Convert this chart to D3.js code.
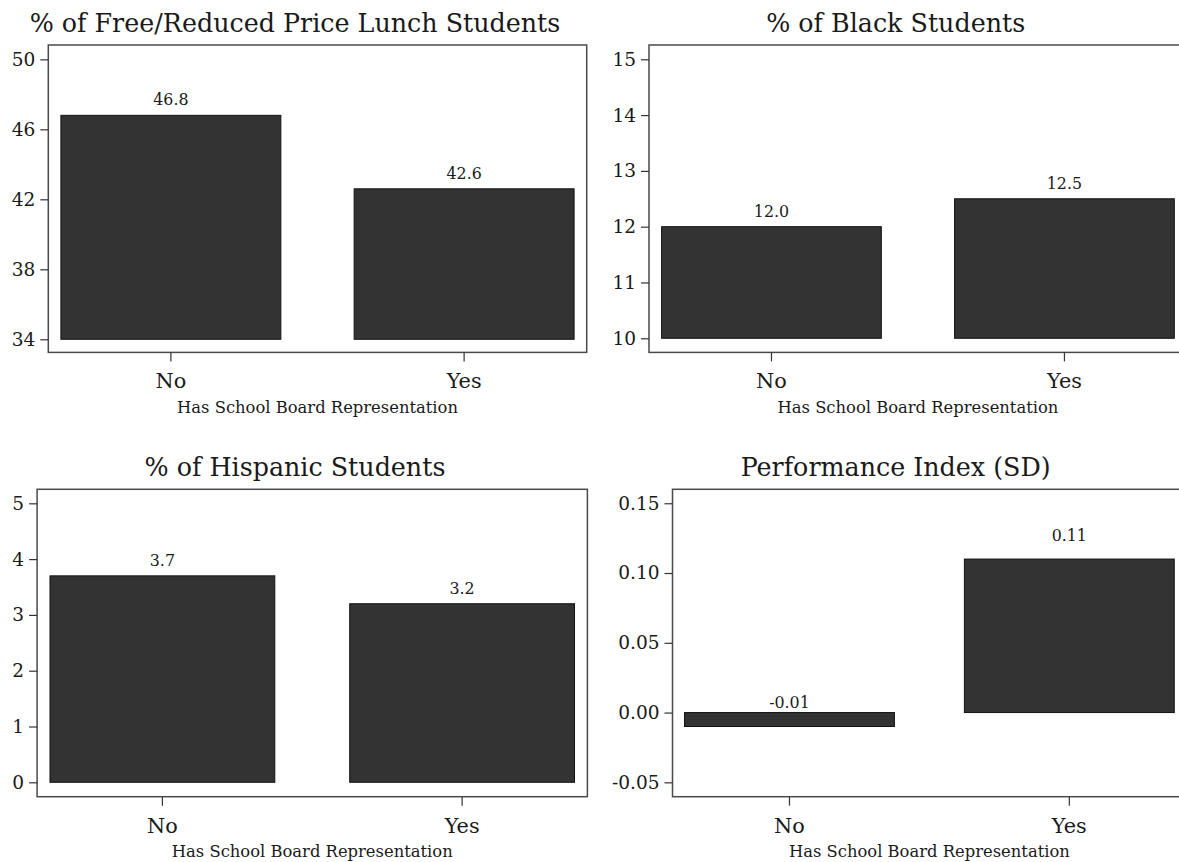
<!DOCTYPE html>
<html><head><meta charset="utf-8">
<script src="https://cdn.jsdelivr.net/npm/d3@7"></script>
<style>body{margin:0;background:#fff}</style>
</head><body>
<svg id="chart" width="1179" height="862"></svg>
<script>
// ---- data ----
const categories = ["No", "Yes"];
const panelTitles = ["% of Free/Reduced Price Lunch Students", "% of Black Students", "% of Hispanic Students", "Performance Index (SD)"];
const xAxisTitle = "Has School Board Representation";
const lunchValues = [46.8, 42.6];
const blackValues = [12.0, 12.5];
const hispanicValues = [3.7, 3.2];
const performanceValues = [-0.01, 0.11];
const lunchTicks = [34, 38, 42, 46, 50];
const blackTicks = [10, 11, 12, 13, 14, 15];
const hispanicTicks = [0, 1, 2, 3, 4, 5];
const performanceTicks = [-0.05, 0.00, 0.05, 0.10, 0.15];
const barBases = [34, 10, 0, 0];

// ---- layout ----
const FONT = "'DejaVu Serif', serif";
const svg = d3.select("#chart");
const hyphen = f => v => f(v).replace("\u2212", "-");

const panels = [
  { title: panelTitles[0], values: lunchValues, ticks: lunchTicks, base: barBases[0], domain: [33.25, 50.82],
    tickFmt: hyphen(d3.format("d")), labelFmt: hyphen(d3.format(".1f")), ox: 0, oy: 0, left: 48.3, right: 586.7, gap: 10 },
  { title: panelTitles[1], values: blackValues, ticks: blackTicks, base: barBases[1], domain: [9.747, 15.256],
    tickFmt: hyphen(d3.format("d")), labelFmt: hyphen(d3.format(".1f")), ox: 600.7, oy: 0, left: 48.3, right: 586.2, gap: 10 },
  { title: panelTitles[2], values: hispanicValues, ticks: hispanicTicks, base: barBases[2], domain: [-0.258, 5.251],
    tickFmt: hyphen(d3.format("d")), labelFmt: hyphen(d3.format(".1f")), ox: 0, oy: 444.3, left: 37.1, right: 587.4, gap: 10 },
  { title: panelTitles[3], values: performanceValues, ticks: performanceTicks, base: barBases[3], domain: [-0.0603, 0.16],
    tickFmt: hyphen(d3.format(".2f")), labelFmt: hyphen(d3.format(".2f")), ox: 600.7, oy: 444.3, left: 71.8, right: 585.6, gap: 18.4 }
];

function fitSize(text, target, base) {
  const t = svg.append("text").attr("font-family", FONT).attr("font-size", base).text(text);
  const w = t.node().getComputedTextLength();
  t.remove();
  return base * target / w;
}
const titleSize = fitSize(panelTitles[0], 531, 24);
const axisTitleSize = fitSize(xAxisTitle, 281, 16);
const catSize = fitSize("Yes", 35, 20);
const yTickSize = fitSize("0.15", 41.3, 18);
const barLabelSize = fitSize("46.8", 35.3, 16);

const TOP = 45, BOTTOM = 352.4;

panels.forEach(p => {
  const g = svg.append("g").attr("transform", `translate(${p.ox},${p.oy})`);
  const x = d3.scaleBand().domain(categories).range([p.left, p.right]).paddingInner(0.25).paddingOuter(0.043);
  const y = d3.scaleLinear().domain(p.domain).range([BOTTOM, TOP]);

  // title (centered on graph region)
  g.append("text").attr("x", 295).attr("y", 31.7).attr("text-anchor", "middle")
    .attr("font-family", FONT).attr("font-size", titleSize).attr("fill", "#1a1a1a").text(p.title);

  // bars
  g.selectAll("rect.bar").data(p.values).join("rect").attr("class", "bar")
    .attr("x", (d, i) => x(categories[i]))
    .attr("width", x.bandwidth())
    .attr("y", d => Math.min(y(d), y(p.base)))
    .attr("height", d => Math.abs(y(d) - y(p.base)))
    .attr("fill", "#333333").attr("stroke", "#111").attr("stroke-width", 1);

  // bar labels
  g.selectAll("text.lab").data(p.values).join("text").attr("class", "lab")
    .attr("x", (d, i) => x(categories[i]) + x.bandwidth() / 2)
    .attr("y", d => y(d) - p.gap)
    .attr("text-anchor", "middle").attr("font-family", FONT).attr("font-size", barLabelSize)
    .attr("fill", "#1a1a1a").text(d => p.labelFmt(d));

  // frame
  g.append("rect").attr("x", p.left).attr("y", TOP).attr("width", p.right - p.left).attr("height", BOTTOM - TOP)
    .attr("fill", "none").attr("stroke", "#4a4a4a").attr("stroke-width", 1.5);

  // y axis
  const ya = g.append("g").attr("transform", `translate(${p.left},0)`)
    .call(d3.axisLeft(y).tickValues(p.ticks).tickFormat(p.tickFmt).tickSize(8).tickPadding(5));
  ya.select(".domain").remove();
  ya.selectAll("line").attr("stroke", "#333").attr("stroke-width", 1.2);
  ya.selectAll("text").attr("font-family", FONT).attr("font-size", yTickSize).attr("fill", "#1a1a1a");

  // x axis
  const xa = g.append("g").attr("transform", `translate(0,${BOTTOM})`)
    .call(d3.axisBottom(x).tickSize(9).tickPadding(0));
  xa.select(".domain").remove();
  xa.selectAll("line").attr("stroke", "#333").attr("stroke-width", 1.2);
  xa.selectAll("text").attr("y", 36).attr("dy", 0).attr("font-family", FONT).attr("font-size", catSize).attr("fill", "#1a1a1a");

  // x axis title (centered on plot region)
  g.append("text").attr("x", (p.left + p.right) / 2).attr("y", BOTTOM + 60.3).attr("text-anchor", "middle")
    .attr("font-family", FONT).attr("font-size", axisTitleSize).attr("fill", "#1a1a1a").text(xAxisTitle);
});
</script>
</body></html>
